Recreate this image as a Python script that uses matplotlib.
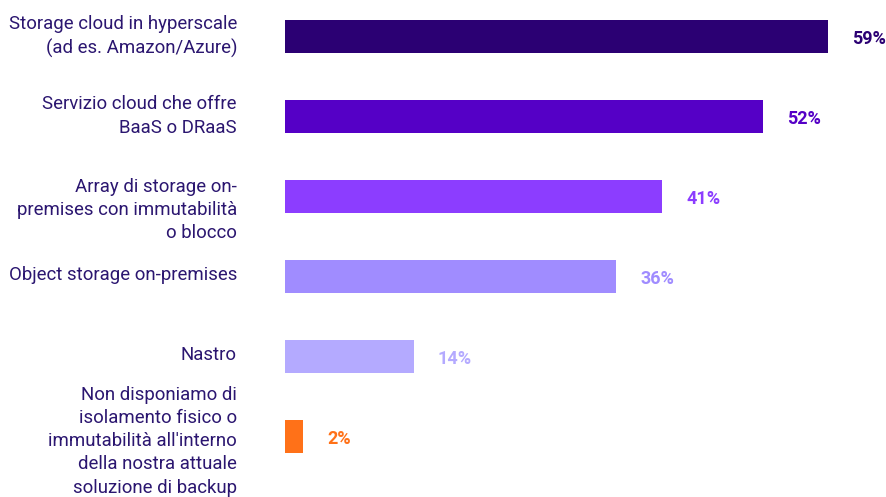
import matplotlib
matplotlib.use("Agg")
import matplotlib.pyplot as plt
import matplotlib.transforms as mtransforms

# data
categories = [
    "Storage cloud in hyperscale\n(ad es. Amazon/Azure)",
    "Servizio cloud che offre\nBaaS o DRaaS",
    "Array di storage on-\npremises con immutabilità\no blocco",
    "Object storage on-premises",
    "Nastro",
    "Non disponiamo di\nisolamento fisico o\nimmutabilità all'interno\ndella nostra attuale\nsoluzione di backup",
]
values = [59, 52, 41, 36, 14, 2]
colors = ["#2b0073", "#5500c6", "#8c3dff", "#a08cff", "#b4aaff", "#ff7118"]
label_color = "#2b1670"

# small vertical nudges of the category labels (pixels, + = down)
label_nudge = [-5, -5, 9, -3, -4, 0]

W, H = 886, 497
fig = plt.figure(figsize=(W / 100, H / 100), dpi=100)
# axes: left edge at x=285px, spans to the right edge
ax = fig.add_axes([285 / W, 0, 1 - 285 / W, 1])

px_per_unit = 9.2
ax.set_xlim(0, (W - 285) / px_per_unit)
step = 80.0
top_c = 36.5
ax.set_ylim((H - top_c) / step, -top_c / step)

ypos = list(range(len(values)))
ax.barh(ypos, values, height=33 / step, color=colors, linewidth=0)

for y, v, c in zip(ypos, values, colors):
    ax.annotate(f"{v}%", xy=(v, y), xytext=(24, -3), textcoords="offset pixels",
                ha="left", va="center", fontsize=13, fontweight="bold",
                color=c, family="Roboto")

ax.set_yticks(ypos)
ax.set_yticklabels(categories, fontsize=13.4, color=label_color,
                   family="Roboto", linespacing=1.38)
ax.tick_params(axis="y", length=0, pad=48 * 72 / 100)
ax.set_xticks([])
for s in ax.spines.values():
    s.set_visible(False)

for lab, dy in zip(ax.get_yticklabels(), label_nudge):
    off = mtransforms.ScaledTranslation(0, -dy / 100, fig.dpi_scale_trans)
    lab.set_transform(lab.get_transform() + off)

fig.savefig("out.png", dpi=100)
